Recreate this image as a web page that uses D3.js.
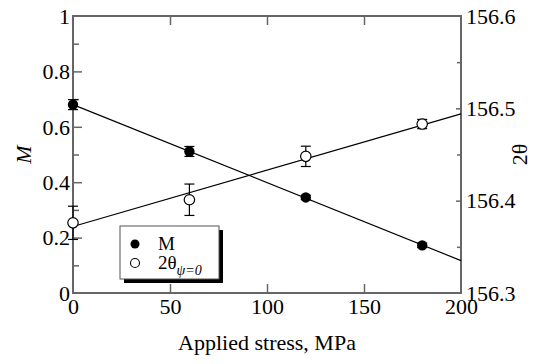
<!DOCTYPE html>
<html><head><meta charset="utf-8">
<script src="https://cdn.jsdelivr.net/npm/d3@7"></script>
<style>
html,body{margin:0;padding:0;background:#fff;}
svg text{font-family:'Liberation Serif','Times New Roman','DejaVu Serif',serif !important;fill:#000;}
</style></head>
<body>
<svg id="c" width="544" height="364"></svg>
<script>
// Data
const stress = [0, 60, 120, 180];
const mValues = [0.680, 0.511, 0.345, 0.172];
const mErrors = [0.018, 0.018, 0.008, 0.008];
const twoTheta = [156.376, 156.401, 156.448, 156.483];
const twoThetaErrors = [0.018, 0.017, 0.011, 0.005];
const fitX = [0, 200];
const fitM = [0.680, 0.117];
const fitTheta = [156.372, 156.494];
const xTicks = [0, 50, 100, 150, 200];
const mTicks = [0, 0.2, 0.4, 0.6, 0.8, 1];
const mMinor = [0.1, 0.3, 0.5, 0.7, 0.9];
const thTicks = [156.3, 156.4, 156.5, 156.6];
const thMinor = [156.35, 156.45, 156.55];

const svg = d3.select("#c");
const L = 73, T = 16, W = 388, H = 277;
const x = d3.scaleLinear().domain([0, 200]).range([L, L + W]);
const yM = d3.scaleLinear().domain([0, 1]).range([T + H, T]);
const yT = d3.scaleLinear().domain([156.3, 156.6]).range([T + H, T]);
const axisCol = "#666";
const fs = 22;
const FF = "'Liberation Serif','Times New Roman',serif";

// frame
svg.append("rect").attr("x", L).attr("y", T).attr("width", W).attr("height", H)
  .attr("fill", "none").attr("stroke", axisCol).attr("stroke-width", 2);

function styleAxis(g) {
  g.attr("font-family", FF);
  g.select(".domain").remove();
  g.selectAll("line").attr("stroke", axisCol).attr("stroke-width", 1.5);
  g.selectAll("text").attr("font-size", fs).attr("fill", "#000");
}
svg.append("g").attr("transform", `translate(0,${T + H})`)
  .call(d3.axisBottom(x).tickValues(xTicks).tickFormat(d3.format("d")).tickSizeInner(-9).tickPadding(5))
  .call(styleAxis)
  .call(g => g.selectAll(".tick").filter(d => d === 0 || d === 200).select("line").remove());
svg.append("g").attr("transform", `translate(0,${T})`)
  .call(d3.axisTop(x).tickValues([50, 100, 150]).tickFormat("").tickSizeInner(-9))
  .call(styleAxis);

const fmtM = d => d === 0 ? "0" : d === 1 ? "1" : d3.format(".1f")(d);
svg.append("g").attr("transform", `translate(${L},0)`)
  .call(d3.axisLeft(yM).tickValues(mTicks).tickFormat(fmtM).tickSizeInner(-9).tickPadding(3))
  .call(styleAxis)
  .call(g => g.selectAll(".tick").filter(d => d === 0 || d === 1).select("line").remove())
  .call(g => g.selectAll("text").attr("dy", "0.33em"));
svg.append("g").attr("transform", `translate(${L},0)`)
  .call(d3.axisLeft(yM).tickValues(mMinor).tickFormat("").tickSizeInner(-6))
  .call(styleAxis);

svg.append("g").attr("transform", `translate(${L + W},0)`)
  .call(d3.axisRight(yT).tickValues(thTicks).tickFormat(d3.format(".1f")).tickSizeInner(-5).tickPadding(5))
  .call(styleAxis)
  .call(g => g.selectAll(".tick").filter(d => d === 156.3 || d === 156.6).select("line").remove())
  .call(g => g.selectAll("text").attr("dy", "0.33em"));
svg.append("g").attr("transform", `translate(${L + W},0)`)
  .call(d3.axisRight(yT).tickValues(thMinor).tickFormat("").tickSizeInner(-4))
  .call(styleAxis);

// axis titles
svg.append("text").attr("x", x(100)).attr("y", 350).attr("text-anchor", "middle")
  .attr("font-size", fs).text("Applied stress, MPa");
svg.append("text").attr("transform", `translate(31,${T + H / 2}) rotate(-90)`)
  .attr("text-anchor", "middle").attr("font-size", fs).attr("font-style", "italic").text("M");
svg.append("text").attr("transform", `translate(527,${T + H / 2}) rotate(-90)`)
  .attr("text-anchor", "middle").attr("font-size", fs).text("2θ");

// fit lines
svg.append("line").attr("x1", x(fitX[0])).attr("x2", x(fitX[1]))
  .attr("y1", yM(fitM[0])).attr("y2", yM(fitM[1])).attr("stroke", "#000").attr("stroke-width", 1.2);
svg.append("line").attr("x1", x(fitX[0])).attr("x2", x(fitX[1]))
  .attr("y1", yT(fitTheta[0])).attr("y2", yT(fitTheta[1])).attr("stroke", "#000").attr("stroke-width", 1.2);

// error bars
function errBars(vals, errs, y) {
  const g = svg.append("g").attr("stroke", "#000").attr("stroke-width", 1.2);
  stress.forEach((s, i) => {
    const cx = x(s), y1 = y(vals[i] + errs[i]), y2 = y(vals[i] - errs[i]);
    g.append("line").attr("x1", cx).attr("x2", cx).attr("y1", y1).attr("y2", y2);
    g.append("line").attr("x1", cx - 5).attr("x2", cx + 5).attr("y1", y1).attr("y2", y1);
    g.append("line").attr("x1", cx - 5).attr("x2", cx + 5).attr("y1", y2).attr("y2", y2);
  });
}
errBars(mValues, mErrors, yM);
errBars(twoTheta, twoThetaErrors, yT);

svg.append("g").selectAll("circle").data(stress).join("circle")
  .attr("cx", d => x(d)).attr("cy", (d, i) => yM(mValues[i])).attr("r", 5.2).attr("fill", "#000");
svg.append("g").selectAll("circle").data(stress).join("circle")
  .attr("cx", d => x(d)).attr("cy", (d, i) => yT(twoTheta[i])).attr("r", 5.2)
  .attr("fill", "#fff").attr("stroke", "#000").attr("stroke-width", 1.2);

// legend
const lg = svg.append("g");
lg.append("rect").attr("x", 124).attr("y", 230).attr("width", 99).attr("height", 53).attr("fill", "#000");
lg.append("rect").attr("x", 120).attr("y", 226).attr("width", 99).attr("height", 53)
  .attr("fill", "#fff").attr("stroke", "#555").attr("stroke-width", 1);
lg.append("circle").attr("cx", 135).attr("cy", 244).attr("r", 4.5).attr("fill", "#000");
lg.append("circle").attr("cx", 135).attr("cy", 263).attr("r", 4.5).attr("fill", "#fff")
  .attr("stroke", "#000").attr("stroke-width", 1.1);
lg.append("text").attr("x", 158).attr("y", 250).attr("font-size", 19).text("M");
const t2 = lg.append("text").attr("x", 158).attr("y", 269).attr("font-size", 19);
t2.append("tspan").text("2θ");
t2.append("tspan").attr("dy", 6).attr("font-size", 14).attr("font-style", "italic").text("ψ=0");
</script>
</body></html>
